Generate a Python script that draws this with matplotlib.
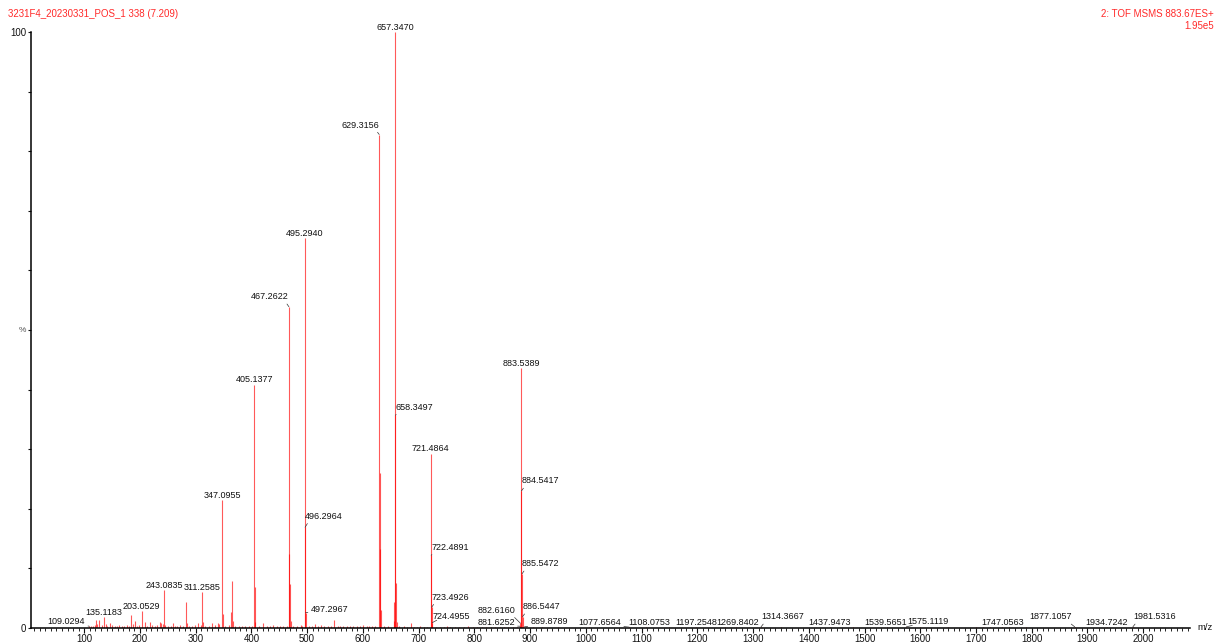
import matplotlib
matplotlib.use("Agg")
import matplotlib.pyplot as plt
from matplotlib.ticker import MultipleLocator, FixedLocator

plt.rcParams['font.family'] = ['Liberation Sans', 'DejaVu Sans']

# labelled peaks (m/z, relative intensity %)
label_mz = [109.0294, 135.1183, 203.0529, 243.0835, 311.2585, 347.0955,
            405.1377, 467.2622, 495.2940, 496.2964, 497.2967, 629.3156,
            657.3470, 658.3497, 721.4864, 722.4891, 723.4926, 724.4955,
            881.6252, 882.6160, 883.5389, 884.5417, 885.5472, 886.5447,
            889.8789, 1077.6564, 1108.0753, 1197.2548, 1269.8402, 1314.3667,
            1437.9473, 1539.5651, 1575.1119, 1747.0563, 1877.1057, 1934.7242,
            1981.5316]
label_int = [0.3, 1.8, 2.85, 6.3, 6.0, 21.4,
             40.8, 53.9, 65.4, 16.9, 2.6, 82.8,
             100.0, 35.7, 29.2, 12.2, 3.5, 0.9,
             0.3, 0.8, 43.6, 23.0, 9.1, 1.9,
             0.2, 0.15, 0.15, 0.15, 0.15, 0.2,
             0.15, 0.15, 0.2, 0.15, 0.2, 0.15,
             0.2]

# label placement: side (c=centred, l=right of peak, r=left of peak), offsets in px
label_side = ['r', 'c', 'c', 'c', 'c', 'c',
              'c', 'r', 'c', 'l', 'l', 'r',
              'c', 'l', 'c', 'l', 'l', 'l',
              'r', 'r', 'c', 'l', 'l', 'l',
              'l', 'r', 'c', 'c', 'c', 'l',
              'c', 'c', 'l', 'c', 'r', 'c',
              'l']
label_dx = [-4, 0, 0, 0, 0, 0,
            0, 0, 0, 0, 5, 0,
            0, 0, 0, 0, 0, 0,
            -5, -5, 0, 0, 0, 0,
            6, -8, 3, 0, 1, 0,
            0, -1, 1, 0, -3, 0,
            0]
label_dy = [-5, -5, -5, -5, -5, -5,
            -5, -10, -5, -11, -3, -9.5,
            -5, -8, -5, -8, -10, -6,
            -4, -13, -5, -10, -10, -10,
            -5, -5, -5, -5, -5, -10,
            -5, -5, -5, -5, -10, -5,
            -10]

# unlabelled peaks
minor_mz = [113.0, 115.1, 119.1, 121.1, 123.1, 127.0, 131.1, 139.1, 141.1, 146.2,
            149.0, 155.1, 159.1, 163.1, 167.1, 171.1, 177.1, 181.1, 184.1, 187.1,
            191.1, 195.1, 199.1, 209.1, 213.1, 218.1, 221.1, 227.1, 231.1, 236.1,
            238.1, 241.1, 245.1, 251.1, 255.1, 258.7, 263.1, 267.1, 271.1, 277.1,
            283.2, 284.2, 287.1, 293.1, 299.1, 304.7, 309.1, 312.3, 317.1, 323.1,
            329.2, 335.1, 339.4, 341.1, 348.1, 353.1, 359.1, 364.1, 365.1, 366.1,
            371.1, 377.1, 383.1, 389.1, 395.1, 401.1, 406.14, 407.1, 413.1, 421.3,
            427.1, 433.1, 439.1, 445.1, 451.1, 457.1, 463.1, 468.27, 469.27, 470.3,
            475.1, 481.1, 488.9, 491.1, 503.1, 509.1, 514.0, 519.1, 524.8, 531.1,
            537.1, 543.1, 548.7, 555.1, 559.1, 564.8, 571.1, 577.1, 583.1, 589.1,
            595.1, 600.7, 607.1, 611.1, 615.7, 621.1, 630.32, 631.32, 632.3, 637.1,
            645.1, 655.3, 656.3, 659.35, 660.3, 665.1, 673.1, 679.1, 685.6, 691.1,
            697.1, 702.4, 709.1, 715.1, 731.1, 739.1, 745.1, 751.1, 757.1, 765.1,
            773.1, 781.1, 789.1, 797.1, 805.1, 813.1, 821.1, 829.1, 837.1, 845.1,
            853.1, 861.1, 869.1, 877.1, 893.1, 905.1, 921.1, 950.0, 1005.0, 1150.0,
            1250.0, 1350.0, 1480.0, 1600.0, 1650.0, 1700.0, 1712.0, 1725.0, 1760.0, 1790.0]
minor_int = [0.3, 0.4, 0.5, 1.3, 0.6, 1.3, 0.5, 0.6, 0.4, 0.8,
             0.5, 0.4, 0.3, 0.5, 0.3, 0.4, 0.5, 0.4, 2.2, 0.6,
             1.1, 0.4, 0.5, 1.0, 0.4, 1.0, 0.5, 0.4, 0.5, 1.0,
             0.9, 0.6, 0.5, 0.4, 0.3, 0.9, 0.4, 0.3, 0.5, 0.4,
             4.3, 0.8, 0.4, 0.4, 0.5, 0.9, 0.5, 1.0, 0.4, 0.4,
             0.8, 0.5, 0.9, 0.6, 2.3, 0.4, 0.5, 2.7, 7.9, 1.2,
             0.4, 0.3, 0.4, 0.3, 0.4, 0.4, 6.9, 1.0, 0.3, 0.85,
             0.3, 0.4, 0.5, 0.3, 0.4, 0.3, 0.4, 12.5, 7.3, 1.2,
             0.4, 0.3, 0.55, 0.4, 0.4, 0.3, 0.7, 0.4, 0.5, 0.3,
             0.4, 0.3, 1.3, 0.3, 0.3, 0.4, 0.3, 0.3, 0.3, 0.3,
             0.3, 0.5, 0.3, 0.3, 0.4, 0.3, 26.0, 13.3, 3.0, 0.3,
             0.3, 4.3, 1.2, 7.6, 1.0, 0.3, 0.3, 0.2, 0.85, 0.2,
             0.2, 0.3, 0.2, 0.2, 0.2, 0.2, 0.2, 0.3, 0.2, 0.2,
             0.2, 0.2, 0.3, 0.2, 0.2, 0.2, 0.2, 0.2, 0.2, 0.2,
             0.2, 0.2, 0.2, 0.2, 0.15, 0.15, 0.15, 0.1, 0.1, 0.1,
             0.1, 0.1, 0.1, 0.1, 0.1, 0.15, 0.15, 0.15, 0.15, 0.1]

title_left = "3231F4_20230331_POS_1 338 (7.209)"
title_right = ["2: TOF MSMS 883.67ES+", "1.95e5"]

fig = plt.figure(figsize=(12.24, 6.42), dpi=100)
ax = fig.add_axes([31 / 1224, 14 / 642, (1190 - 31) / 1224, (628 - 32) / 642])

# thin translucent red sticks; overlapping isotope sticks build up to full red
stick = dict(color='#ff0000', lw=0.8, alpha=0.65)
ax.vlines(minor_mz, 0, minor_int, **stick)
ax.vlines(label_mz, 0, label_int, **stick)

ax.set_xlim(4.5, 2084)
ax.set_ylim(0, 100)

for s in ['top', 'right']:
    ax.spines[s].set_visible(False)
for s in ['left', 'bottom']:
    ax.spines[s].set_linewidth(1.1)
    ax.spines[s].set_color('black')

ax.xaxis.set_major_locator(FixedLocator(range(100, 2001, 100)))
ax.xaxis.set_minor_locator(MultipleLocator(10))
ax.yaxis.set_major_locator(FixedLocator(range(0, 101, 10)))
ax.set_yticklabels(['0', '', '', '', '', '%', '', '', '', '', '100'])
ax.tick_params(axis='x', which='major', direction='out', length=3.5, width=0.8,
               labelsize=6.9, pad=1, colors='#111111')
ax.tick_params(axis='x', which='minor', direction='out', length=2, width=0.6)
ax.tick_params(axis='y', which='major', direction='out', length=2.5, width=0.8,
               labelsize=6.9, pad=1, colors='#111111')
for t in ax.get_yticklabels():
    if t.get_text() == '%':
        t.set_fontsize(6)
        t.set_color('#555555')

px = 0.72  # points per pixel at 100 dpi
for mz, val, side, dx, dy in zip(label_mz, label_int, label_side, label_dx, label_dy):
    txt = f"{mz:.4f}"
    if side == 'c':
        ax.annotate(txt, xy=(mz, val), xytext=(dx * px, -dy * px),
                    textcoords='offset points', ha='center', va='center',
                    fontsize=6.5, color='#111111', annotation_clip=False)
    else:
        ha = 'left' if side == 'l' else 'right'
        rel = (0.12, 0.1) if side == 'l' else (0.88, 0.1)
        ax.annotate(txt, xy=(mz, val), xytext=(dx * px, -dy * px),
                    textcoords='offset points', ha=ha, va='center',
                    fontsize=6.5, color='#111111', annotation_clip=False,
                    arrowprops=dict(arrowstyle='-', color='#333333', lw=0.5,
                                    shrinkA=0, shrinkB=0, relpos=rel))

ax.text(1.006, 0.0, 'm/z', transform=ax.transAxes, fontsize=6.8,
        ha='left', va='center', color='#111111')

fig.text(8 / 1224, 1 - 14 / 642, title_left, color='#ff2a2a', fontsize=7,
         ha='left', va='center')
fig.text(1214 / 1224, 1 - 14 / 642, title_right[0], color='#ff2a2a', fontsize=7,
         ha='right', va='center')
fig.text(1214 / 1224, 1 - 26 / 642, title_right[1], color='#ff2a2a', fontsize=7,
         ha='right', va='center')

fig.savefig('out.png', dpi=100)
